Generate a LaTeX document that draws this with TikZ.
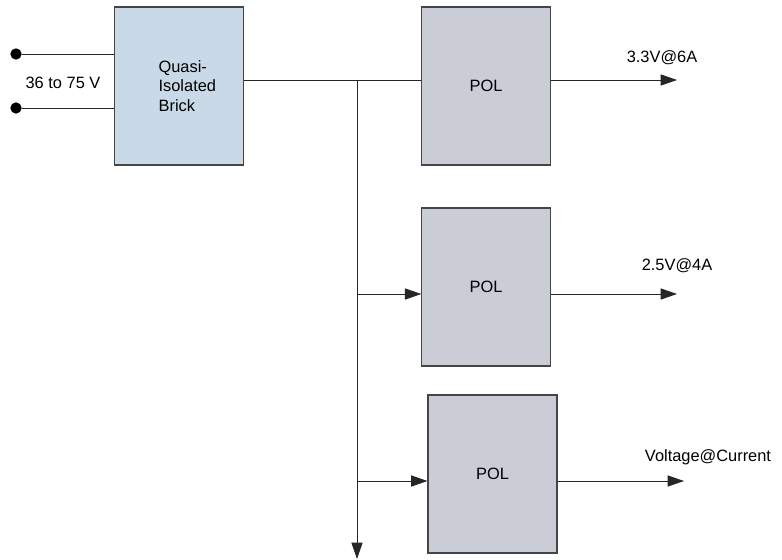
\documentclass[tikz,border=0pt]{standalone}
\usepackage{fontspec}
\setmainfont{Liberation Sans}
\usetikzlibrary{arrows.meta,positioning}
\definecolor{brickblue}{HTML}{C9D9E8}
\definecolor{polgray}{HTML}{CACDD5}
\definecolor{boxline}{HTML}{454545}
\tikzset{
  blockbox/.style={draw=boxline,line width=0.9pt,minimum width=3.85cm,minimum height=4.74cm,inner sep=0pt},
  brickbox/.style={blockbox,fill=brickblue,align=left},
  polbox/.style={blockbox,fill=polgray},
  wire/.style={line width=0.8pt,draw=black!85},
  arr/.style={wire,-{Triangle[length=14pt,width=9.5pt]}},
  terminal/.style={circle,fill=black,inner sep=0pt,minimum size=0.34cm}
}
\begin{document}
\begin{tikzpicture}[x=0.03cm,y=-0.03cm,font=\fontsize{14}{16.5}\selectfont]
\useasboundingbox (0,0) rectangle (782,560);
% converter blocks
\node[brickbox] (brick) at (179,86) {\hspace*{0.5cm}Quasi-\\\hspace*{0.5cm}Isolated\\\hspace*{0.5cm}Brick};
\node[polbox] (pol1) at (486,86) {POL};
\node[polbox] (pol2) at (486,287) {POL};
\node[polbox,minimum width=3.87cm] (pol3) at (492.5,474) {POL};
% input terminals
\node[terminal] (in1) at (16,54) {};
\node[terminal] (in2) at (16,108) {};
\node (vin) at (63,83) {36 to 75 V};
\draw[wire] (in1) -- (in1 -| brick.west);
\draw[wire] (in2) -- (in2 -| brick.west);
% bus
\coordinate (bus) at (357,80);
\coordinate (tap2) at (357,294);
\coordinate (tap3) at (357,481);
\coordinate (busend) at (357,559);
\draw[wire] (brick.east |- bus) -- (pol1.west |- bus);
\draw[arr] (bus) -- (busend);
\draw[arr] (tap2) -- (tap2 -| pol2.west);
\draw[arr] (tap3) -- (tap3 -| pol3.west);
% outputs
\coordinate (out1) at (677,80);
\coordinate (out2) at (677,294);
\coordinate (out3) at (684,481);
\draw[arr] (out1 -| pol1.east) -- (out1);
\draw[arr] (out2 -| pol2.east) -- (out2);
\draw[arr] (out3 -| pol3.east) -- (out3);
\node (v1) at (662,58) {3.3V@6A};
\node (v2) at (677,266) {2.5V@4A};
\node (v3) at (708,457) {Voltage@Current};
\end{tikzpicture}
\end{document}
